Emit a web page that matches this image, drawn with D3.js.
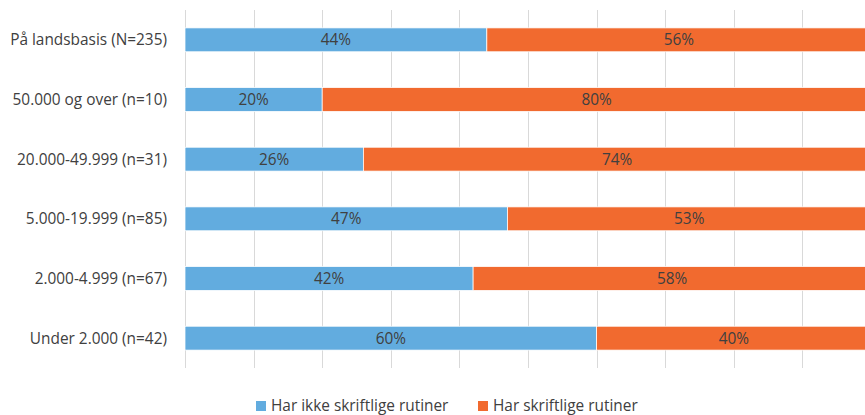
<!DOCTYPE html>
<html>
<head>
<meta charset="utf-8">
<script src="https://cdn.jsdelivr.net/npm/d3@7"></script>
<style>
  body { margin: 0; background: #fff; }
  text { font-family: "Open Sans", "Noto Sans", sans-serif; fill: #404040; }
</style>
</head>
<body>
<div id="chart"></div>
<script>
const categories = [
  "På landsbasis (N=235)",
  "50.000 og over (n=10)",
  "20.000-49.999 (n=31)",
  "5.000-19.999 (n=85)",
  "2.000-4.999 (n=67)",
  "Under 2.000 (n=42)"
];
const seriesNames = ["Har ikke skriftlige rutiner", "Har skriftlige rutiner"];
const harIkke = [44, 20, 26, 47, 42, 60];
const harSkriftlige = [56, 80, 74, 53, 58, 40];
const ticks = [0, 10, 20, 30, 40, 50, 60, 70, 80, 90, 100];
const colors = ["#62acdf", "#f16a2f"];

const w = 865, h = 415;
const margin = { left: 185, top: 10, right: -6, bottom: 47 };
const fs = "15.4px";

const svg = d3.select("#chart").append("svg")
  .attr("width", w).attr("height", h);

const x = d3.scaleLinear().domain([0, 100]).range([margin.left, w - margin.right]);
const y = d3.scaleBand().domain(categories)
  .range([margin.top, h - margin.bottom]).paddingInner(0.6).paddingOuter(0.3);

// gridlines
svg.append("g").selectAll("line")
  .data(ticks).enter().append("line")
  .attr("x1", d => Math.round(x(d)) + 0.5).attr("x2", d => Math.round(x(d)) + 0.5)
  .attr("y1", margin.top).attr("y2", h - margin.bottom)
  .attr("stroke", "#d9d9d9").attr("stroke-width", 1);

const data = categories.map((c, i) => ({ cat: c, vals: [harIkke[i], harSkriftlige[i]] }));

const rows = svg.append("g").selectAll("g")
  .data(data).enter().append("g");

rows.each(function (d) {
  const g = d3.select(this);
  let start = 0;
  d.vals.forEach((v, k) => {
    g.append("rect")
      .attr("x", x(start)).attr("y", y(d.cat))
      .attr("width", x(start + v) - x(start)).attr("height", y.bandwidth())
      .attr("fill", colors[k]).attr("stroke", "#fff").attr("stroke-width", 0.75);
    g.append("text")
      .attr("x", x(start + v / 2)).attr("y", y(d.cat) + y.bandwidth() / 2)
      .attr("dy", "0.35em").attr("text-anchor", "middle")
      .style("font-size", fs).text(v + "%");
    start += v;
  });
});

// category labels
svg.append("g").selectAll("text")
  .data(categories).enter().append("text")
  .attr("x", 167).attr("y", d => y(d) + y.bandwidth() / 2)
  .attr("dy", "0.35em").attr("text-anchor", "end")
  .style("font-size", fs).text(d => d);

// legend
const legendX = [256, 478];
const legend = svg.append("g").selectAll("g")
  .data(seriesNames).enter().append("g")
  .attr("transform", (d, i) => `translate(${legendX[i]}, 401)`);
legend.append("rect").attr("width", 10).attr("height", 10)
  .attr("fill", (d, i) => colors[i]);
legend.append("text").attr("x", 15).attr("y", 5).attr("dy", "0.35em")
  .style("font-size", fs).text(d => d);
</script>
</body>
</html>
